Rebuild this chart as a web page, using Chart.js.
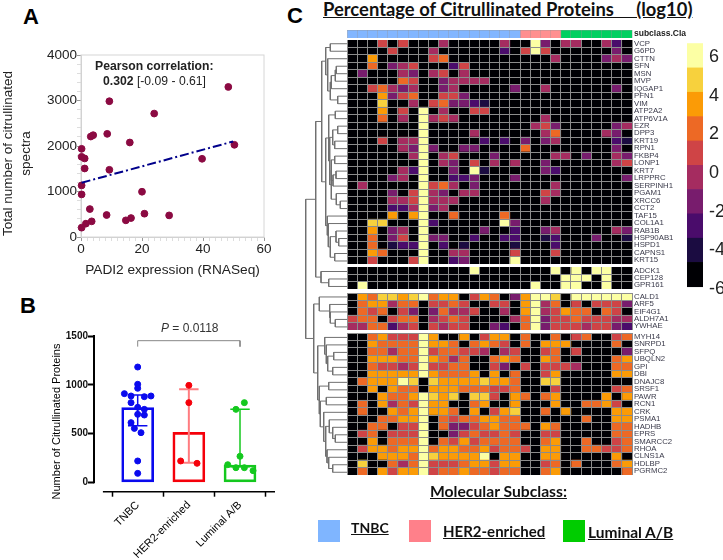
<!DOCTYPE html>
<html>
<head>
<meta charset="utf-8">
<script src="https://cdn.jsdelivr.net/npm/chart.js@4/dist/chart.umd.min.js"></script>
<style>
  html, body { margin: 0; padding: 0; background: #fff; }
  #page { position: relative; width: 723px; height: 560px; overflow: hidden; font-family: 'Liberation Sans', Arial, sans-serif; }
  canvas { position: absolute; }
  .txt { position: absolute; white-space: pre; color: #000; }
  .letter { font-weight: bold; font-size: 22px; line-height: 22px; }
  .head { font-family: Lato, sans-serif; font-weight: bold; text-decoration: underline; color: #111; }
  .swatch { position: absolute; width: 22px; height: 22px; top: 520px; }
</style>
</head>
<body>
<div id="page">
  <div class="txt letter" style="left:23px;top:6px">A</div>
  <div class="txt letter" style="left:20px;top:295px">B</div>
  <div class="txt letter" style="left:287px;top:5px">C</div>
  <div class="txt head" style="left:323px;top:-2px;font-size:18.4px">Percentage of Citrullinated Proteins     (log10)</div>

  <canvas id="scatter" style="left:0;top:30px"></canvas>
  <div class="txt" style="left:95px;top:59px;font-size:12.200px;font-weight:bold;color:#222">Pearson correlation:</div>
  <div class="txt" style="left:103px;top:74px;font-size:12.200px;color:#222"><b>0.302</b> [-0.09 - 0.61]</div>

  <canvas id="bars" style="left:0;top:320px"></canvas>
  <div class="txt" style="left:161px;top:321px;font-size:12px;color:#333"><i>P</i> = 0.0118</div>

  <canvas id="dendro" style="left:300px;top:39.7px"></canvas>
  <canvas id="annot" style="left:347px;top:29.5px"></canvas>
  <canvas id="heat1" style="left:347px;top:39.7px"></canvas>
  <canvas id="heat2" style="left:347px;top:267.3px"></canvas>
  <canvas id="heat3" style="left:347px;top:292.6px"></canvas>
  <canvas id="heat4" style="left:347px;top:332.7px"></canvas>
  <canvas id="colorbar" style="left:680px;top:36px"></canvas>

  <div class="txt head" style="left:430px;top:482px;font-size:15.700px">Molecular Subclass:</div>
  <div class="swatch" style="left:318px;background:#7fb5ff"></div>
  <div class="txt head" style="left:351px;top:519px;font-size:14px">TNBC</div>
  <div class="swatch" style="left:408.500px;background:#ff808a"></div>
  <div class="txt head" style="left:443px;top:522px;font-size:15px">HER2-enriched</div>
  <div class="swatch" style="left:562.500px;background:#00cc00"></div>
  <div class="txt head" style="left:588px;top:523px;font-size:15.500px">Luminal A/B</div>
</div>

<script>
// panel A
const padi2Expr = [48.3, 9.3, 24, 8.6, 3.2, 4, 16, 50.3, 0.2, 0.2, 1.2, 39.7, 1.2, 9.3, 0.2, 0.2, 20, 2.9, 8.4, 3.5, 1.6, 0.2, 14.7, 16.4, 20.8, 28.9];
const citSpectra = [3298, 2984, 2713, 2267, 2208, 2238, 2077, 2026, 1938, 1762, 1726, 1719, 1506, 1477, 1133, 936, 995, 614, 483, 344, 293, 205, 366, 417, 512, 475];
const trendX = [0.2, 49.9];
const trendY = [1192, 2099];

// panel B
const subclasses = ['TNBC', 'HER2-enriched', 'Luminal A/B'];
const subclassBars = [765, 512, 178];
const errLow = [581, 200, 160];
const errHigh = [895, 953, 750];
const tnbcValues = [1182, 1005, 964, 909, 885, 878, 885, 817, 769, 748, 697, 690, 612, 553, 509, 219, 92];
const tnbcJitter = [0, 0, 0, -0.26, -0.13, 0.13, 0.26, -0.13, 0, 0.13, 0, 0.13, -0.13, -0.065, 0.065, 0, 0];
const her2Values = [994, 817, 219, 195];
const her2Jitter = [0, 0, -0.16, 0.16];
const lumValues = [817, 748, 267, 181, 150, 150, 120];
const lumJitter = [0.085, -0.08, 0, -0.24, -0.08, 0.085, 0.255];

// panel C, digit = colour bin (0 lowest .. 9 highest)
const genes1 = ['VCP', 'G6PD', 'CTTN', 'SFN', 'MSN', 'MVP', 'IQGAP1', 'PFN1', 'VIM', 'ATP2A2', 'ATP6V1A', 'EZR', 'DPP3', 'KRT19', 'RPN1', 'FKBP4', 'LONP1', 'KRT7', 'LRPPRC', 'SERPINH1', 'PGAM1', 'XRCC6', 'CCT2', 'TAF15', 'COL1A1', 'RAB1B', 'HSP90AB1', 'HSPD1', 'CAPNS1', 'KRT15'];
const heat1 = [
  '0005050004000004009304400420', '0000500040000002059500000030', '0070000056000000000040000343',
  '0060345000250000000000000000', '0300043045040000000000000000', '0000065003444400000000000000',
  '0056434003400000300400000030', '0007356005530000000000000000', '0008004056332100000000000000',
  '0007050904005500000000000000', '0006040945400000000400000000', '0000000900000000004530000034',
  '0000000900004000000460000430', '0005044900000202030340000021', '0000043930033000060000000030',
  '0000004904500030000044030043', '0000000904305040400300000045', '0000042900309100000320000000',
  '0000340900223000300000000003', '0400000956403000000040000000', '0000305943044000000540000000',
  '0000445944400000000400000000', '0000224934000000000000000000', '0000707900600006000000000000',
  '0088000920000009300000000000', '0070340900000300200340000043', '0060350933002002200120003001',
  '0060122902010000100020000000', '0076000900440000500050000000', '0050005900230000900000000000'
];
const genes2 = ['ADCK1', 'CEP128', 'GPR161'];
const heat2 = [
  '0000000000009000000090909900', '0000000000000000000009990900', '0900000000000000009009900900'
];
const genes3 = ['CALD1', 'ARF5', 'EIF4G1', 'ALDH7A1', 'YWHAE'];
const heat3 = [
  '0768878967705760379980999999', '0677466055650055079460505553', '0656053036445004079457660650',
  '5660566045650000469355655544', '4466245054550032069355545532'
];
const genes4 = ['MYH14', 'SNRPD1', 'SFPQ', 'UBQLN2', 'GPI', 'DBI', 'DNAJC8', 'SRSF1', 'PAWR', 'RCN1', 'CRK', 'PSMA1', 'HADHB', 'EPRS', 'SMARCC2', 'RHOA', 'CLNS1A', 'HDLBP', 'PGRMC2'];
const heat4 = [
  '0067555970070577060060560056', '0076666977606765060777000060', '0066466956655404500560500003',
  '0077766976460067600760000067', '0065545955660053050555400066', '0077777976667070600570000077',
  '0677798087777877600880000000', '0070766077766655600050000056', '0007667987808850760670000707',
  '0607465977006700700070066750', '0600767977607057800607000077', '0006677906566776600000060077',
  '0066055906335676660760000066', '0560555900356556500550000066', '0070666906575666600670060056',
  '0577677967766756650770066556', '0007776987777907700770000070', '0800646955567757700560600067',
  '0607577956676656600670000006'
];
const subclassCols = [17, 4, 7];
const legendTicks = [-6, -4, -2, 0, 2, 4, 6];
const binEdges = [-5.88, -4.62, -3.37, -2.11, -0.85, 0.4, 1.66, 2.92, 4.18, 5.44, 6.7];

// row clustering, [height, left branch, right branch], leaves are row numbers
const tree1 = [25.3,
  [21.3, [16.7, 0, 1], [19.3, 2, [16.7, [15.7, [11.7, [10.7, 3, 4], 5], 6], [9.3, 7, 8]]]],
  [21.3,
    [18.3, [11.7, 9, 10], [17.3, [14.3, [9.3, 11, 12], [12.3, 13, 14]],
      [15.7, [15.7, [12.3, 15, 16], [14, [11, 17, 18], 19]], [10.7, 20, [6.7, 21, 22]]]]],
    [19.7, 23, [18.7, 24, [16.7, [11, 25, [8.3, 26, 27]], [12.3, 28, 29]]]]]];
const tree2 = [26, 30, [18.3, 31, 32]];
const tree3 = [27.7, 33, [17.3, 34, [16.7, 35, [11.7, 36, 37]]]];
const tree4 = [29.3,
  [22.3, 38, [20.7, 39, [19.3, [13.3, 40, 41], [14.3, 42, 43]]]],
  [27.7, [18.3, 44, 45],
    [26.7, [20.7, 46, 47],
      [23.3, 48, [21.3, [17.7, 49, [14.3, 50, [11.7, 51, 52]]], [20, 53, [18.3, 54, [14.3, 55, 56]]]]]]]];
const rootTree = [41.3, [31.3, tree1, tree2], [33.3, tree3, tree4]];

const inferno = ['#000004', '#1b0c41', '#4a0c6b', '#781c6d', '#a52c60', '#cf4446', '#ed6925', '#fb9b06', '#f7d13d', '#fcffa4'];
const annotColors = ['#82b6ff', '#ff8f8f', '#00d060'];
const rowH = 7.48;
const labelFont = "'Liberation Sans', Arial, sans-serif";

function setSize(id, w, h) {
  const c = document.getElementById(id);
  c.width = w; c.height = h;
  c.style.width = w + 'px'; c.style.height = h + 'px';
  return c;
}

function range(a, b, step) {
  let out = [];
  for (let v = a; v <= b + 1e-9; v += step) out.push(v);
  return out;
}

function forceTicks(values) {
  return function (axis) { axis.ticks = values.map(v => ({ value: v })); };
}

// keep the plot area exact, labels may hang out
function fitWidth(w) {
  return function (s) { s.width = w; s.paddingTop = 0; s.paddingBottom = 0; };
}

Chart.defaults.animation = false;
Chart.defaults.responsive = false;
Chart.defaults.plugins.legend.display = false;
Chart.defaults.plugins.tooltip.enabled = false;
Chart.defaults.font.family = labelFont;

// panel A scatter
const frame = {
  id: 'frame',
  beforeDatasetsDraw(chart) {
    const a = chart.chartArea, g = chart.ctx;
    g.save();
    g.strokeStyle = '#d6d6d6';
    g.lineWidth = 1;
    g.strokeRect(a.left, a.top, a.width, a.height);
    g.restore();
  }
};

new Chart(setSize('scatter', 290, 250), {
  type: 'scatter',
  plugins: [frame],
  data: {
    datasets: [
      {
        data: trendX.map((x, i) => ({ x: x, y: trendY[i] })),
        showLine: true, pointRadius: 0,
        borderColor: '#00008b', borderWidth: 2, borderDash: [9, 3, 2, 3]
      },
      {
        data: padi2Expr.map((x, i) => ({ x: x, y: citSpectra[i] })),
        backgroundColor: '#8b0a42', borderColor: '#8b0a42', pointRadius: 3.4, clip: false
      }
    ]
  },
  options: {
    layout: { padding: { top: 25, right: 26 } },
    scales: {
      x: {
        min: 0, max: 60,
        afterFit(s) { s.height = 43; },
        afterBuildTicks: forceTicks(range(0, 60, 2)),
        grid: { drawOnChartArea: false, tickLength: 4, tickColor: c => c.tick.value % 20 === 0 ? '#999' : '#ddd' },
        border: { color: '#cfcfcf' },
        ticks: { autoSkip: false, maxRotation: 0, font: { size: 13.5 }, color: '#222', padding: 0,
          callback: v => v % 20 === 0 ? v : '' },
        title: { display: true, text: 'PADI2 expression (RNASeq)', font: { size: 13.700 }, color: '#222', padding: 2 }
      },
      y: {
        min: 0, max: 4000,
        afterFit: fitWidth(81),
        afterBuildTicks: forceTicks(range(0, 4000, 200)),
        grid: { drawOnChartArea: false, tickLength: 4, tickColor: c => c.tick.value % 1000 === 0 ? '#999' : '#ddd' },
        border: { color: '#cfcfcf' },
        ticks: { autoSkip: false, font: { size: 13.5 }, color: '#222', padding: 0,
          callback: v => v % 1000 === 0 ? v : '' },
        // trailing spaces lift the centred title a little
        title: { display: true, text: ['Total number of citrullinated    ', 'spectra    '], font: { size: 13.500, lineHeight: 1.3 }, color: '#222', padding: { top: 0, bottom: 0 } }
      }
    }
  }
});

// panel B bars with dots
function errSegments(i, capHalf) {
  const x = i + 1;
  return [
    { x: x, y: errLow[i] }, { x: x, y: errHigh[i] }, { x: NaN, y: NaN },
    { x: x - capHalf, y: errHigh[i] }, { x: x + capHalf, y: errHigh[i] }, { x: NaN, y: NaN },
    { x: x - capHalf, y: errLow[i] }, { x: x + capHalf, y: errLow[i] }
  ];
}
function dots(values, jitter, center) {
  return values.map((v, i) => ({ x: center + jitter[i], y: v }));
}
const barColors = ['#0a0aee', '#f5000a', '#14c81e'];
const errColors = ['#0a0aee', '#ff7c80', '#14c81e'];

const offsetAxes = {
  id: 'offsetAxes',
  afterDatasetsDraw(chart) {
    const x = chart.scales.x, y = chart.scales.y, g = chart.ctx;
    g.save();
    g.strokeStyle = '#000';
    g.lineWidth = 2;
    g.beginPath();
    g.moveTo(x.left, y.getPixelForValue(1500) - 1);
    g.lineTo(x.left, y.getPixelForValue(0) + 1);
    g.stroke();
    g.lineWidth = 1.5;
    g.beginPath();
    g.moveTo(x.getPixelForValue(0.32), y.bottom);
    g.lineTo(x.right, y.bottom);
    g.stroke();
    g.restore();
  }
};

new Chart(setSize('bars', 290, 240), {
  type: 'bar',
  plugins: [offsetAxes],
  data: {
    datasets: [
      {
        data: subclassBars.map((v, i) => ({ x: i + 1, y: v })),
        barThickness: 32, backgroundColor: 'rgba(0,0,0,0)', borderColor: barColors,
        borderWidth: 2, borderSkipped: false, order: 3
      }
    ].concat(errColors.map((col, i) => ({
      type: 'scatter', data: errSegments(i, 0.19), showLine: true, pointRadius: 0,
      borderColor: col, borderWidth: i === 1 ? 2 : 1.5, order: 2
    }))).concat([
      { type: 'scatter', data: dots(tnbcValues, tnbcJitter, 1), pointRadius: 3, backgroundColor: barColors[0], borderColor: barColors[0], order: 1 },
      { type: 'scatter', data: dots(her2Values, her2Jitter, 2), pointRadius: 3, backgroundColor: barColors[1], borderColor: barColors[1], order: 1 },
      { type: 'scatter', data: dots(lumValues, lumJitter, 3), pointRadius: 3, backgroundColor: barColors[2], borderColor: barColors[2], order: 1 },
      { type: 'scatter', data: [{ x: 1, y: 1391 }, { x: 1, y: 1452 }, { x: 3, y: 1452 }, { x: 3, y: 1391 }], showLine: true, pointRadius: 0, borderColor: '#888', borderWidth: 1, order: 0 }
    ])
  },
  options: {
    layout: { padding: { top: 16, right: 15, left: 50 } },
    scales: {
      x: {
        type: 'linear', min: 0.146, max: 3.684, offset: false,
        afterFit(s) { s.height = 68.3; },
        afterBuildTicks: forceTicks([1, 2, 3]),
        grid: { drawOnChartArea: false, tickLength: 5, tickColor: '#000', tickWidth: 1.5 },
        border: { display: false },
        ticks: { autoSkip: false, minRotation: 45, maxRotation: 45, font: { size: 11 }, color: '#000', padding: 2,
          callback: v => subclasses[v - 1] }
      },
      y: {
        min: -96, max: 1500,
        afterFit: fitWidth(44),
        afterBuildTicks: forceTicks([0, 500, 1000, 1500]),
        grid: { drawOnChartArea: false, tickLength: 6, tickColor: '#000', tickWidth: 2 },
        border: { display: false },
        ticks: { autoSkip: false, font: { size: 10, weight: 'bold' }, color: '#111', padding: 0, callback: v => String(v) },
        title: { display: true, text: 'Number of Citrullinated Proteins     ', font: { size: 11 }, color: '#000', padding: 0 }
      }
    }
  }
});

// dendrogram
const rowGap = 0.4;
function rowPos(r) {
  let gaps = r >= 38 ? 3 : r >= 33 ? 2 : r >= 30 ? 1 : 0;
  return r + 0.5 + gaps * rowGap;
}
let treeLines = [];
function walk(node) {
  if (!Array.isArray(node)) return { y: rowPos(node), h: 0 };
  const l = walk(node[1]), r = walk(node[2]);
  treeLines.push({ x: l.h, y: l.y }, { x: node[0], y: l.y }, { x: node[0], y: r.y }, { x: r.h, y: r.y }, { x: NaN, y: NaN });
  return { y: (l.y + r.y) / 2, h: node[0] };
}
walk(rootTree);

new Chart(setSize('dendro', 47, 436), {
  type: 'scatter',
  data: { datasets: [{ data: treeLines, showLine: true, pointRadius: 0, borderColor: '#707070', borderWidth: 1, clip: false }] },
  options: {
    scales: {
      x: { display: false, reverse: true, min: 0, max: 47 },
      y: { display: false, reverse: true, min: 0, max: 57 + 3 * rowGap }
    }
  }
});

// heat blocks, one stacked bar per column
function heatChart(id, labels, rows, height, colorOf, gridColor, tickFont) {
  const cols = rows[0].length;
  let datasets = [];
  for (let c = 0; c < cols; c++) {
    datasets.push({
      data: rows.map(() => 1),
      backgroundColor: rows.map(r => colorOf(r[c], c)),
      barPercentage: 1, categoryPercentage: 1, borderWidth: 0
    });
  }
  return new Chart(setSize(id, 340, height), {
    type: 'bar',
    data: { labels: labels, datasets: datasets },
    options: {
      indexAxis: 'y',
      layout: { padding: 0 },
      scales: {
        x: {
          stacked: true, min: 0, max: cols,
          afterBuildTicks: forceTicks(range(0, cols, 1)),
          grid: { z: 1, color: gridColor, lineWidth: 1, drawTicks: false },
          border: { display: false },
          ticks: { display: false }
        },
        y: {
          stacked: true, position: 'right',
          afterFit: fitWidth(55),
          grid: { z: 1, color: gridColor, lineWidth: 1, drawTicks: false, offset: true },
          border: { display: false },
          ticks: { autoSkip: false, font: tickFont, color: tickFont.color, padding: 2 }
        }
      }
    }
  });
}

const geneFont = { size: 7.8, color: '#3a3a4a' };
const cellColor = d => inferno[+d];
heatChart('heat1', genes1, heat1, Math.round(30 * rowH), cellColor, '#8c8c8c', geneFont);
heatChart('heat2', genes2, heat2, Math.round(3 * rowH), cellColor, '#8c8c8c', geneFont);
heatChart('heat3', genes3, heat3, Math.round(5 * rowH), cellColor, '#8c8c8c', geneFont);
heatChart('heat4', genes4, heat4, Math.round(19 * rowH), cellColor, '#8c8c8c', geneFont);

function subclassOf(c) {
  if (c < subclassCols[0]) return 0;
  return c < subclassCols[0] + subclassCols[1] ? 1 : 2;
}
const annotRow = ['0'.repeat(subclassCols.reduce((a, b) => a + b, 0))];
heatChart('annot', ['subclass.Cla'], annotRow, 8, (d, c) => annotColors[subclassOf(c)], 'rgba(150,150,150,0.35)', { size: 8.5, weight: 'bold', color: '#222' });

// colour key
new Chart(setSize('colorbar', 43, 260), {
  type: 'bar',
  data: {
    labels: [''],
    datasets: inferno.map((col, i) => ({
      data: [[binEdges[i], binEdges[i + 1]]],
      backgroundColor: col, grouped: false, barPercentage: 1, categoryPercentage: 1
    }))
  },
  options: {
    layout: { padding: { left: 7 } },
    scales: {
      x: { display: false },
      y: {
        position: 'right', min: -6.36, max: 7.09,
        afterFit: fitWidth(20),
        afterBuildTicks: forceTicks(legendTicks),
        grid: { display: false, drawTicks: false },
        border: { display: false },
        ticks: { autoSkip: false, font: { family: "'Liberation Sans Narrow', 'Liberation Sans'", size: 18 }, color: '#222', padding: 6 }
      }
    }
  }
});
</script>
</body>
</html>
